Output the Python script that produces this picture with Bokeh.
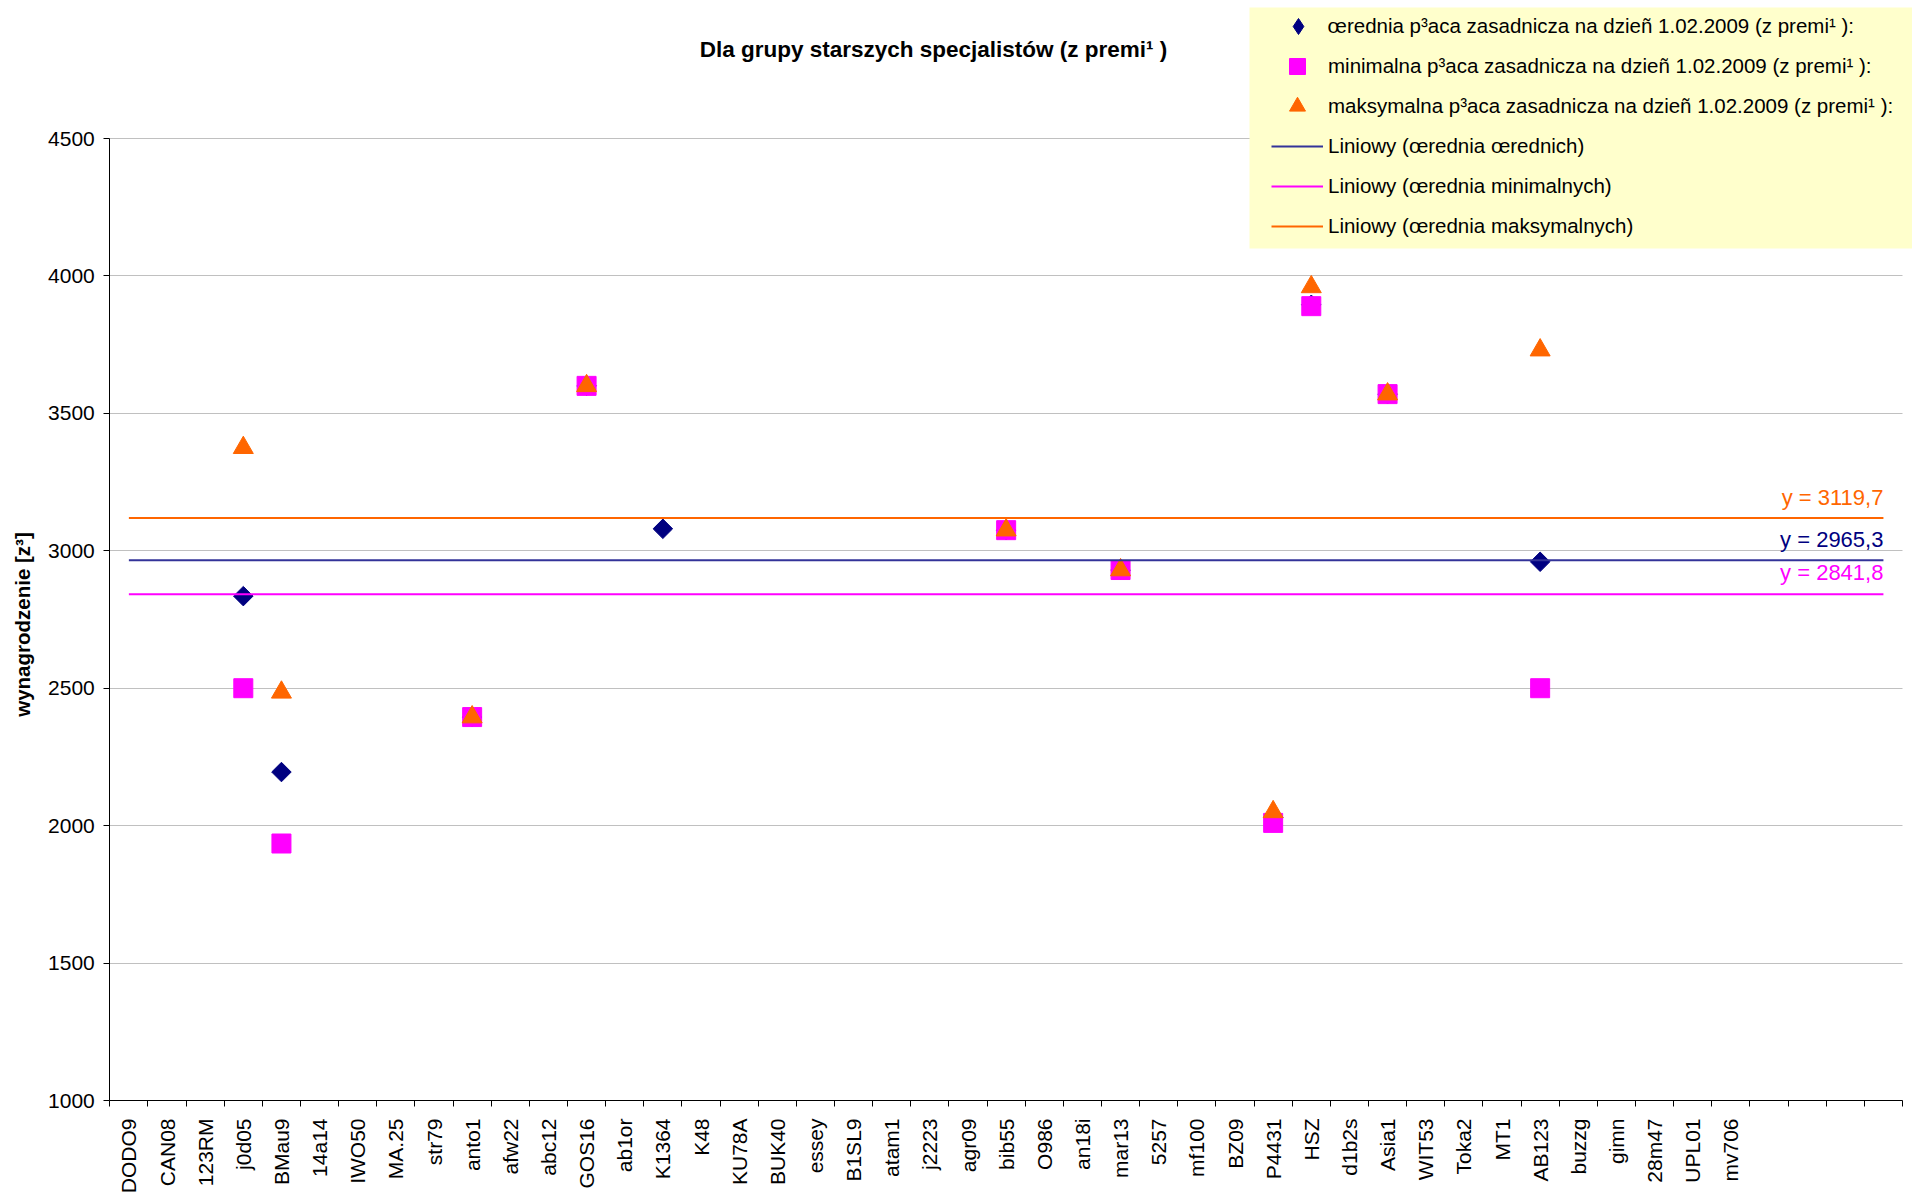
import math
from bokeh.plotting import figure
from bokeh.models import (Range1d, FixedTicker, Label, Legend, LegendItem,
                          BoxAnnotation, ColumnDataSource)
from bokeh.embed import file_html
from bokeh.resources import INLINE

# ---------------- data ----------------
categories = ["DODO9", "CAN08", "123RM", "j0d05", "BMau9", "14a14", "IWO50", "MA.25", "str79", "anto1",
              "afw22", "abc12", "GOS16", "ab1or", "K1364", "K48", "KU78A", "BUK40", "essey", "B1SL9",
              "atam1", "j2223", "agr09", "bib55", "O986", "an18i", "mar13", "5257", "mf100", "BZ09",
              "P4431", "HSZ", "d1b2s", "Asia1", "WIT53", "Toka2", "MT1", "AB123", "buzzg", "gimn",
              "28m47", "UPL01", "mv706", "", "", "", ""]

avg_pay = [None, None, None, 2835, 2195, None, None, None, None, 2395,
           None, None, 3600, None, 3080, None, None, None, None, None,
           None, None, None, 3075, None, None, 2930, None, None, None,
           2030, 3895, None, 3570, None, None, None, 2960, None, None,
           None, None, None, None, None, None, None]

min_pay = [None, None, None, 2500, 1935, None, None, None, None, 2395,
           None, None, 3600, None, None, None, None, None, None, None,
           None, None, None, 3075, None, None, 2930, None, None, None,
           2010, 3890, None, 3570, None, None, None, 2500, None, None,
           None, None, None, None, None, None, None]

max_pay = [None, None, None, 3375, 2485, None, None, None, None, 2395,
           None, None, 3600, None, None, None, None, None, None, None,
           None, None, None, 3075, None, None, 2930, None, None, None,
           2050, 3960, None, 3570, None, None, None, 3730, None, None,
           None, None, None, None, None, None, None]

trend_avg = 2965.3
trend_min = 2841.8
trend_max = 3119.7

y_ticks = [1000, 1500, 2000, 2500, 3000, 3500, 4000, 4500]

title_text = "Dla grupy starszych specjalistów (z premi¹ )"
y_label_text = "wynagrodzenie [z³]"
legend_labels = [
    "œrednia p³aca zasadnicza na dzieñ 1.02.2009 (z premi¹ ):",
    "minimalna p³aca zasadnicza na dzieñ 1.02.2009 (z premi¹ ):",
    "maksymalna p³aca zasadnicza na dzieñ 1.02.2009 (z premi¹ ):",
    "Liniowy (œrednia œrednich)",
    "Liniowy (œrednia minimalnych)",
    "Liniowy (œrednia maksymalnych)",
]

# ---------------- layout (pixels) ----------------
W, H = 1912, 1192
AX_LEFT = 109.3          # x of the value axis
AX_RIGHT = 1902          # right end of the category axis
AX_BOTTOM = 1100         # y of the category axis
TOP_TICK_PY = 138        # y of the 4500 line
ncat = len(categories)
cat_w = (AX_RIGHT - AX_LEFT) / ncat
ppu = (AX_BOTTOM - TOP_TICK_PY) / (y_ticks[-1] - y_ticks[0])
y_end = y_ticks[-1] + TOP_TICK_PY / ppu


def fx(px):
    return -0.5 + (px - AX_LEFT) / cat_w


def fy(py):
    return y_end - py / ppu


FONT = "Liberation Sans"
NAVY = "#000080"
MAG = "#FF00FF"
ORG = "#FF6600"
BLUE_LINE = "#333399"

p = figure(width=W, height=H, title=None,
           x_range=Range1d(fx(0), fx(W)), y_range=Range1d(fy(H), y_end),
           output_backend="svg", toolbar_location=None,
           min_border_left=0, min_border_right=0, min_border_top=0, min_border_bottom=0)
p.outline_line_color = None
p.background_fill_color = "white"
p.border_fill_color = "white"

# grid
p.xgrid.grid_line_color = None
p.ygrid.ticker = FixedTicker(ticks=y_ticks)
p.ygrid.grid_line_color = "#C0C0C0"
p.ygrid.grid_line_width = 1
p.ygrid.cross_bounds = (-0.5, ncat - 0.5)

# y axis (fixed inside the frame)
ya = p.yaxis[0]
ya.fixed_location = -0.5
ya.ticker = FixedTicker(ticks=y_ticks)
ya.bounds = (y_ticks[0], y_ticks[-1])
ya.axis_line_color = "black"
ya.major_tick_out = 6
ya.major_tick_in = 0
ya.major_tick_line_color = "black"
ya.minor_tick_line_color = None
ya.major_label_standoff = 9
ya.major_label_text_font = FONT
ya.major_label_text_font_size = "21px"
ya.major_label_text_color = "black"

# x axis (fixed at the bottom of the value range)
xa = p.xaxis[0]
xa.fixed_location = y_ticks[0]
xa.bounds = (-0.5, ncat - 0.5)
xa.ticker = FixedTicker(ticks=list(range(ncat)),
                        minor_ticks=[i - 0.5 for i in range(ncat + 1)])
xa.major_label_overrides = {i: c for i, c in enumerate(categories)}
xa.axis_line_color = "black"
xa.major_tick_line_color = None
xa.major_tick_out = 0
xa.major_tick_in = 0
xa.minor_tick_line_color = "black"
xa.minor_tick_out = 6
xa.minor_tick_in = 0
xa.major_label_orientation = math.pi / 2
xa.major_label_standoff = 12
xa.major_label_text_font = FONT
xa.major_label_text_font_size = "21px"
xa.major_label_text_color = "black"


def series(vals):
    xs = [i for i, v in enumerate(vals) if v is not None]
    ys = [v for v in vals if v is not None]
    return ColumnDataSource(dict(x=xs, y=ys))


r_avg = p.scatter("x", "y", source=series(avg_pay), marker="square", angle=math.pi / 4,
                  size=13.8, fill_color=NAVY, line_color=NAVY)
r_min = p.scatter("x", "y", source=series(min_pay), marker="square",
                  size=19, fill_color=MAG, line_color=MAG)
r_max = p.scatter("x", "y", source=series(max_pay), marker="triangle",
                  size=20, fill_color=ORG, line_color=ORG)
# legend key for the mean series (the legend does not rotate markers)
r_avg_key = p.scatter(x=[float("nan")], y=[float("nan")], marker="diamond",
                      fill_color=NAVY, line_color=NAVY)

x_first, x_last = 0, ncat - 1
l_avg = p.line([x_first, x_last], [trend_avg, trend_avg], line_color=BLUE_LINE, line_width=2)
l_min = p.line([x_first, x_last], [trend_min, trend_min], line_color=MAG, line_width=2)
l_max = p.line([x_first, x_last], [trend_max, trend_max], line_color=ORG, line_width=2)


def fmt(v):
    return ("y = %.1f" % v).replace(".", ",")


for val, col, off in [(trend_max, ORG, 20.5), (trend_avg, NAVY, 21), (trend_min, MAG, 22)]:
    p.add_layout(Label(x=x_last, y=val + off / ppu, text=fmt(val), text_color=col,
                       text_font=FONT, text_font_size="22px",
                       text_align="right", text_baseline="middle"))

# title and y label
p.add_layout(Label(x=fx(933), y=fy(49), text=title_text, text_font=FONT,
                   text_font_style="bold", text_font_size="22.5px", text_color="black",
                   text_align="center", text_baseline="middle"))
p.add_layout(Label(x=fx(22), y=fy(624), text=y_label_text, text_font=FONT,
                   text_font_style="bold", text_font_size="20.5px", text_color="black",
                   angle=math.pi / 2, text_align="center", text_baseline="middle"))

# legend background
p.add_layout(BoxAnnotation(left=fx(1249), right=fx(W + 4), top=fy(7), bottom=fy(248),
                           fill_color="#FFFFCC", fill_alpha=1.0, line_color=None,
                           level="annotation"))

ROW = 40
TOP_ROW = 5.9
FH = H
common = dict(spacing=0, padding=0, margin=0, border_line_color=None,
              background_fill_alpha=0, label_height=ROW, glyph_height=ROW,
              label_text_font=FONT, label_text_font_size="20.5px", label_text_color="black")
leg1 = Legend(items=[LegendItem(label=legend_labels[0], renderers=[r_avg_key])],
              location=(1277.6, FH - (TOP_ROW + ROW)), glyph_width=40,
              label_standoff=10, **common)
leg2 = Legend(items=[LegendItem(label=legend_labels[1], renderers=[r_min]),
                     LegendItem(label=legend_labels[2], renderers=[r_max]),
                     LegendItem(label=legend_labels[3], renderers=[l_avg]),
                     LegendItem(label=legend_labels[4], renderers=[l_min]),
                     LegendItem(label=legend_labels[5], renderers=[l_max])],
              location=(1271, FH - (TOP_ROW + 6 * ROW)), glyph_width=52,
              label_standoff=5, **common)
p.add_layout(leg1)
p.add_layout(leg2)

open("out.html", "w").write(file_html(p, INLINE))
